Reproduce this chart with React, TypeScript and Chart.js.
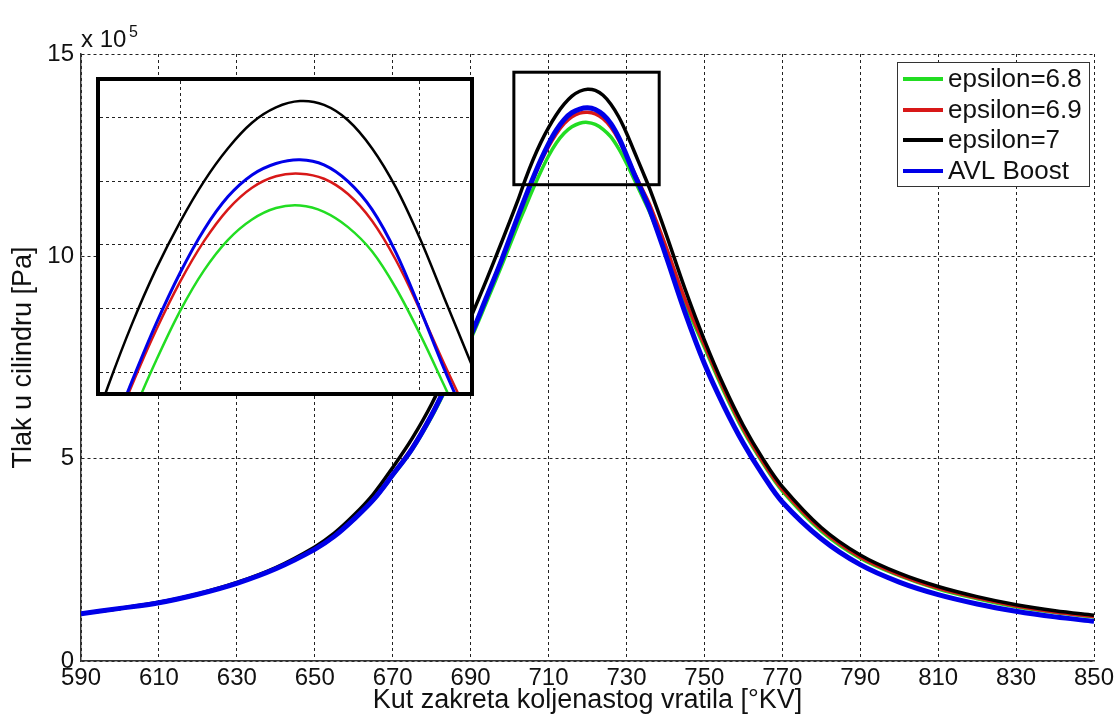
import React, { useEffect, useRef } from "react";
import { Chart, registerables } from "chart.js";

Chart.register(...registerables);

// ---------- data (pressure in 10^5 Pa) ----------
const angle = [
  590, 600, 610, 620, 630, 640, 650, 655, 660, 665, 670, 675, 680, 685, 690, 694, 698,
  702, 704, 706, 708, 710, 712, 714, 716, 718, 720, 722, 724, 726, 728, 730, 732, 734,
  736, 740, 745, 750, 755, 760, 765, 770, 780, 790, 800, 810, 820, 830, 840, 850,
];

const eps68 = [
  1.17, 1.30, 1.44, 1.65, 1.92, 2.28, 2.76, 3.08, 3.49, 3.97, 4.58, 5.22, 6.03, 6.98, 7.95, 8.85, 9.78,
  10.74, 11.20, 11.66, 12.09, 12.48, 12.80, 13.04, 13.20, 13.29, 13.31, 13.26, 13.14, 12.95, 12.66, 12.30, 11.90, 11.49,
  11.08, 10.12, 8.85, 7.75, 6.66, 5.69, 4.89, 4.20, 3.21, 2.54, 2.11, 1.78, 1.54, 1.34, 1.20, 1.09,
];

const eps69 = [
  1.17, 1.30, 1.44, 1.65, 1.92, 2.29, 2.77, 3.10, 3.52, 4.00, 4.62, 5.28, 6.10, 7.07, 8.05, 8.97, 9.93,
  10.93, 11.43, 11.90, 12.33, 12.71, 13.03, 13.28, 13.45, 13.54, 13.56, 13.52, 13.40, 13.19, 12.88, 12.49, 12.07, 11.67,
  11.27, 10.28, 8.95, 7.82, 6.72, 5.74, 4.93, 4.24, 3.25, 2.57, 2.13, 1.80, 1.56, 1.36, 1.21, 1.10,
];

const eps7 = [
  1.17, 1.30, 1.45, 1.66, 1.94, 2.31, 2.82, 3.16, 3.60, 4.12, 4.78, 5.50, 6.35, 7.38, 8.48, 9.40, 10.36,
  11.35, 11.89, 12.38, 12.81, 13.18, 13.50, 13.76, 13.96, 14.08, 14.13, 14.10, 13.98, 13.76, 13.45, 13.05, 12.59, 12.13,
  11.66, 10.60, 9.20, 7.93, 6.80, 5.82, 5.00, 4.31, 3.30, 2.62, 2.17, 1.84, 1.59, 1.39, 1.24, 1.13,
];

const avlBoost = [
  1.17, 1.30, 1.44, 1.65, 1.92, 2.28, 2.76, 3.08, 3.50, 3.98, 4.60, 5.25, 6.08, 7.05, 8.03, 8.97, 9.92,
  10.95, 11.45, 11.93, 12.38, 12.78, 13.12, 13.38, 13.55, 13.64, 13.67, 13.63, 13.50, 13.28, 12.94, 12.50, 12.03, 11.60,
  11.15, 10.05, 8.62, 7.35, 6.30, 5.38, 4.60, 3.93, 3.02, 2.38, 1.95, 1.64, 1.41, 1.23, 1.09, 0.98,
];

const seriesLabels = ["epsilon=6.8", "epsilon=6.9", "epsilon=7", "AVL Boost"];
const seriesColors = ["#22dd22", "#d81818", "#000000", "#0000e8"];

const xTicks = [590, 610, 630, 650, 670, 690, 710, 730, 750, 770, 790, 810, 830, 850];
const yTicks = [0, 5, 10, 15];
const insetXTicks = [710, 730];
const insetYTicks = [12, 12.5, 13, 13.5, 14];
// zoomed window marked on the main plot (data units)
const zoomBoxX = [701.1, 738.4];
const zoomBoxY = [11.77, 14.55];
// inset axes limits
const insetXRange = [703.33, 734.17];
const insetYRange = [11.845, 14.288];

const FONT = "'Liberation Sans', Arial, Helvetica, sans-serif";
const TEXT = "#111";

function buildDatasets(widths: number[]) {
  const all = [eps68, eps69, eps7, avlBoost];
  return all.map((vals, i) => ({
    label: seriesLabels[i],
    data: angle.map((a, j) => ({ x: a, y: vals[j] })),
    borderColor: seriesColors[i],
    backgroundColor: seriesColors[i],
    borderWidth: widths[i],
    pointRadius: 0,
    fill: false,
    tension: 0.35,
    order: 3 - i,
  }));
}

const overlayPlugin = {
  id: "overlay",
  afterDatasetsDraw(chart: any) {
    const { ctx, scales } = chart;
    const x0 = scales.x.getPixelForValue(zoomBoxX[0]);
    const x1 = scales.x.getPixelForValue(zoomBoxX[1]);
    const y0 = scales.y.getPixelForValue(zoomBoxY[1]);
    const y1 = scales.y.getPixelForValue(zoomBoxY[0]);
    ctx.save();
    ctx.strokeStyle = "#000";
    ctx.lineWidth = 3;
    ctx.strokeRect(x0, y0, x1 - x0, y1 - y0);
    ctx.restore();
  },
  afterDraw(chart: any) {
    const { ctx } = chart;
    ctx.save();
    // exponent label
    ctx.fillStyle = TEXT;
    ctx.textBaseline = "alphabetic";
    ctx.textAlign = "left";
    ctx.font = `24px ${FONT}`;
    ctx.fillText("x 10", 81, 47);
    ctx.font = `16px ${FONT}`;
    ctx.fillText("5", 129, 37);

    // legend
    const bx = 897, by = 62, bw = 192, bh = 124;
    ctx.fillStyle = "#fff";
    ctx.fillRect(bx, by, bw, bh);
    ctx.strokeStyle = "#333";
    ctx.lineWidth = 1;
    ctx.strokeRect(bx + 0.5, by + 0.5, bw, bh);
    const rows = [79, 110, 140, 171];
    ctx.font = `26px ${FONT}`;
    ctx.textBaseline = "middle";
    seriesLabels.forEach((lab, i) => {
      ctx.strokeStyle = seriesColors[i];
      ctx.lineWidth = 4;
      ctx.beginPath();
      ctx.moveTo(903, rows[i]);
      ctx.lineTo(943, rows[i]);
      ctx.stroke();
      ctx.fillStyle = TEXT;
      ctx.fillText(lab, 948, rows[i] + 1);
    });
    ctx.restore();
  },
};

function MainChart() {
  const ref = useRef<HTMLCanvasElement>(null);
  useEffect(() => {
    const chart = new Chart(ref.current as HTMLCanvasElement, {
      type: "line",
      data: { datasets: buildDatasets([3.5, 3.5, 3.5, 5]) as any },
      options: {
        animation: false,
        responsive: false,
        maintainAspectRatio: false,
        layout: { padding: { left: 0, top: 54, right: 26, bottom: 0 } },
        plugins: { legend: { display: false }, tooltip: { enabled: false } },
        scales: {
          x: {
            type: "linear",
            min: 590,
            max: 850,
            afterBuildTicks: (s: any) => {
              s.ticks = xTicks.map((v) => ({ value: v }));
            },
            afterFit: (s: any) => {
              s.height = 57;
            },
            ticks: {
              color: TEXT,
              font: { family: FONT, size: 24 },
              padding: 3,
              maxRotation: 0,
              autoSkip: false,
              callback: (v: any) => String(v),
            },
            grid: { color: "#222", lineWidth: 1, drawTicks: false },
            border: { display: true, color: "#333", width: 1.5, dash: [3, 3] },
            title: {
              display: true,
              text: "Kut zakreta koljenastog vratila [°KV]",
              color: TEXT,
              font: { family: FONT, size: 27 },
              padding: { top: 0, bottom: 1 },
            },
          },
          y: {
            type: "linear",
            min: 0,
            max: 15,
            afterBuildTicks: (s: any) => {
              s.ticks = yTicks.map((v) => ({ value: v }));
            },
            afterFit: (s: any) => {
              s.width = 81;
            },
            ticks: {
              color: TEXT,
              font: { family: FONT, size: 24 },
              padding: 7,
              callback: (v: any) => String(v),
            },
            grid: { color: "#222", lineWidth: 1, drawTicks: false },
            border: { display: true, color: "#333", width: 1.5, dash: [3, 3] },
            title: {
              display: true,
              text: "Tlak u cilindru [Pa]",
              color: TEXT,
              font: { family: FONT, size: 27 },
              padding: { top: 7, bottom: 0 },
            },
          },
        },
      },
      plugins: [overlayPlugin],
    });
    return () => chart.destroy();
  }, []);
  return <canvas ref={ref} width={1120} height={718} style={{ display: "block" }} />;
}

function InsetChart() {
  const ref = useRef<HTMLCanvasElement>(null);
  useEffect(() => {
    const chart = new Chart(ref.current as HTMLCanvasElement, {
      type: "line",
      data: { datasets: buildDatasets([2.5, 2.5, 2.5, 3]) as any },
      options: {
        animation: false,
        responsive: false,
        maintainAspectRatio: false,
        layout: { padding: 0 },
        plugins: { legend: { display: false }, tooltip: { enabled: false } },
        scales: {
          x: {
            type: "linear",
            min: insetXRange[0],
            max: insetXRange[1],
            afterBuildTicks: (s: any) => {
              s.ticks = insetXTicks.map((v) => ({ value: v }));
            },
            afterFit: (s: any) => {
              s.height = 0;
            },
            ticks: { display: false },
            grid: { color: "#222", lineWidth: 1, drawTicks: false },
            border: { display: false, dash: [3, 3] },
          },
          y: {
            type: "linear",
            min: insetYRange[0],
            max: insetYRange[1],
            afterBuildTicks: (s: any) => {
              s.ticks = insetYTicks.map((v) => ({ value: v }));
            },
            afterFit: (s: any) => {
              s.width = 0;
            },
            ticks: { display: false },
            grid: { color: "#222", lineWidth: 1, drawTicks: false },
            border: { display: false, dash: [3, 3] },
          },
        },
      },
    });
    return () => chart.destroy();
  }, []);
  return (
    <div
      style={{
        position: "absolute",
        left: 96,
        top: 77,
        width: 378,
        height: 319,
        border: "4px solid #000",
        boxSizing: "border-box",
        background: "#fff",
      }}
    >
      <canvas ref={ref} width={370} height={311} style={{ display: "block" }} />
    </div>
  );
}

export default function App() {
  return (
    <div
      style={{
        position: "absolute",
        left: 0,
        top: 0,
        width: 1120,
        height: 718,
        background: "#fff",
        overflow: "hidden",
      }}
    >
      <MainChart />
      <InsetChart />
    </div>
  );
}
